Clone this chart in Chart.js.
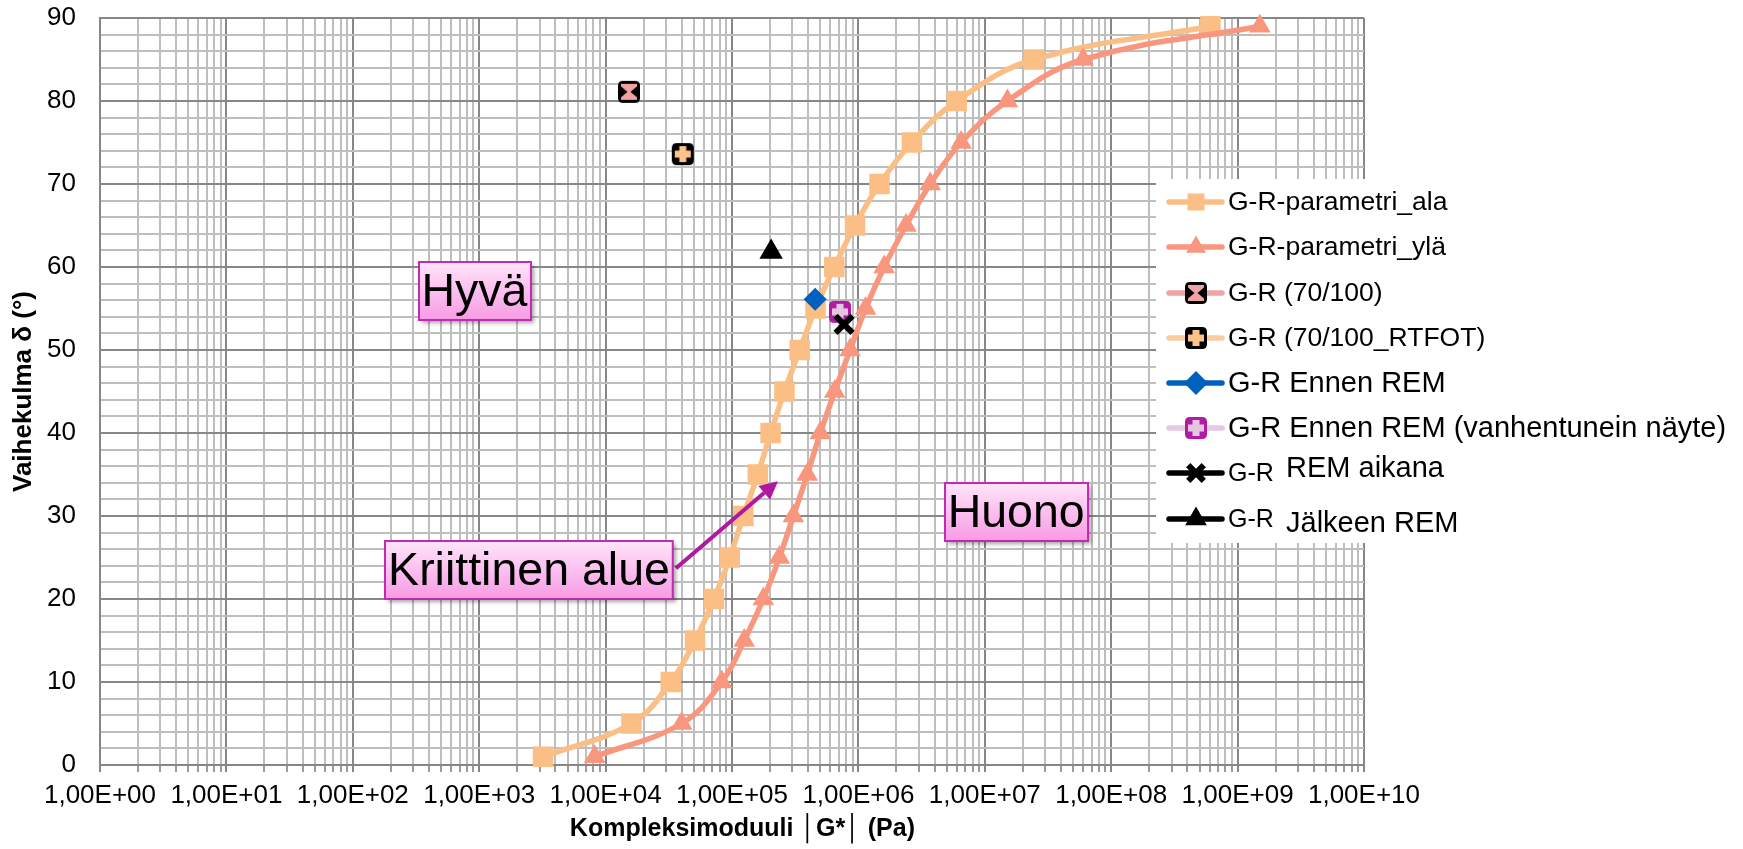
<!DOCTYPE html>
<html>
<head>
<meta charset="utf-8">
<script src="https://cdn.jsdelivr.net/npm/chart.js@4.4.1/dist/chart.umd.min.js"></script>
<style>
html,body{margin:0;padding:0;background:#ffffff;}
#wrap{width:1743px;height:849px;position:relative;}
</style>
</head>
<body>
<div id="wrap"><canvas id="c" width="1743" height="849"></canvas></div>
<script>
// ---------- data ----------
const seriesNames = [
  'G-R-parametri_ala',
  'G-R-parametri_ylä',
  'G-R (70/100)',
  'G-R (70/100_RTFOT)',
  'G-R Ennen REM',
  'G-R Ennen REM (vanhentunein näyte)',
  'G-R REM aikana',
  'G-R Jälkeen REM'
];
const alaG     = [3.2e3, 1.6e4, 3.28e4, 5.1e4, 7.2e4, 9.6e4, 1.23e5, 1.6e5, 2.02e5, 2.6e5, 3.43e5, 4.58e5, 6.45e5, 9.4e5, 1.47e6, 2.65e6, 6.0e6, 2.45e7, 6.1e8];
const alaDelta = [1, 5, 10, 15, 20, 25, 30, 35, 40, 45, 50, 55, 60, 65, 70, 75, 80, 85, 89];
const ylaG     = [8.2e3, 4.0e4, 8.3e4, 1.25e5, 1.77e5, 2.37e5, 3.06e5, 3.94e5, 5.0e5, 6.5e5, 8.6e5, 1.14e6, 1.6e6, 2.38e6, 3.7e6, 6.5e6, 1.51e7, 6.0e7, 1.5e9];
const ylaDelta = [1, 5, 10, 15, 20, 25, 30, 35, 40, 45, 50, 55, 60, 65, 70, 75, 80, 85, 89];
const bitumenG = [1.53e4], bitumenDelta = [81.1];
const rtfotG   = [4.08e4], rtfotDelta   = [73.6];
const ennenG   = [4.55e5], ennenDelta   = [56.1];
const vanhaG   = [7.15e5], vanhaDelta   = [54.6];
const aikanaG  = [7.7e5],  aikanaDelta  = [53.1];
const jalkeenG = [2.04e5], jalkeenDelta = [61.8];

const xTickLabels = ['1,00E+00','1,00E+01','1,00E+02','1,00E+03','1,00E+04','1,00E+05','1,00E+06','1,00E+07','1,00E+08','1,00E+09','1,00E+10'];
const yTickLabels = ['0','10','20','30','40','50','60','70','80','90'];
const xTitle = '\u00a0\u00a0\u00a0Kompleksimoduuli \u2502G*\u2502 (Pa)';
const yTitle = 'Vaihekulma \u03b4 (\u00b0)';

// annotation texts with anchor points in data coordinates
const notes = [
  {text: 'Hyvä', g: 918, d: 57.1},
  {text: 'Kriittinen alue', g: 2477, d: 23.5},
  {text: 'Huono', g: 1.77e7, d: 30.5}
];
const arrowFrom = {g: 3.6e4, d: 23.7};
const arrowTo   = {g: 2.31e5, d: 34.2};

// ---------- helpers ----------
const pts = (xs, ys) => xs.map((x, i) => ({x: x, y: ys[i]}));
const FONT = '"Liberation Sans", Arial, Helvetica, sans-serif';

function rr(g, x, y, w, h, r) {
  g.beginPath();
  g.moveTo(x + r, y); g.lineTo(x + w - r, y); g.quadraticCurveTo(x + w, y, x + w, y + r);
  g.lineTo(x + w, y + h - r); g.quadraticCurveTo(x + w, y + h, x + w - r, y + h);
  g.lineTo(x + r, y + h); g.quadraticCurveTo(x, y + h, x, y + h - r);
  g.lineTo(x, y + r); g.quadraticCurveTo(x, y, x + r, y); g.closePath();
}
function makeMarker(draw) {
  const c = document.createElement('canvas'); c.width = 24; c.height = 24;
  draw(c.getContext('2d')); return c;
}
const mark70 = makeMarker(g => {
  g.fillStyle = '#000'; rr(g, 1, 1, 22, 22, 5); g.fill();
  g.fillStyle = '#F2A2A2'; g.fillRect(4, 4, 16, 16);
  g.fillStyle = '#000';
  g.beginPath(); g.moveTo(4, 6.5); g.lineTo(10.5, 12); g.lineTo(4, 17.5); g.fill();
  g.beginPath(); g.moveTo(20, 6.5); g.lineTo(13.5, 12); g.lineTo(20, 17.5); g.fill();
});
const markRT = makeMarker(g => {
  g.fillStyle = '#000'; rr(g, 1, 1, 22, 22, 5); g.fill();
  g.fillStyle = '#FBC28C'; g.fillRect(8.5, 4, 7, 16); g.fillRect(4, 8.5, 16, 7);
});
const markVanha = makeMarker(g => {
  g.fillStyle = '#B21AA4'; rr(g, 1, 1, 22, 22, 5); g.fill();
  g.fillStyle = '#E4C6E0'; g.fillRect(8.5, 4, 7, 16); g.fillRect(4, 8.5, 16, 7);
});

const ORANGE = '#FBBE84', SALMON = '#F8977E';

const datasets = [
  {label: seriesNames[0], data: pts(alaG, alaDelta), showLine: true, tension: 0.4,
   borderColor: ORANGE, borderWidth: 5.5, pointStyle: 'rect', pointRadius: 14.5,
   pointBackgroundColor: ORANGE, pointBorderColor: ORANGE, pointBorderWidth: 0, legendLine: ORANGE, legendRadius: 12},
  {label: seriesNames[1], data: pts(ylaG, ylaDelta), showLine: true, tension: 0.4,
   borderColor: SALMON, borderWidth: 5.5, pointStyle: 'triangle', pointRadius: 12.5,
   pointBackgroundColor: SALMON, pointBorderColor: SALMON, pointBorderWidth: 0, legendLine: SALMON, legendRadius: 11.5},
  {label: seriesNames[2], data: pts(bitumenG, bitumenDelta), showLine: false,
   pointStyle: mark70, pointRadius: 12, pointBackgroundColor: '#F2A2A2', pointBorderColor: '#000', pointBorderWidth: 0, legendLine: '#F0A3A6', legendRadius: 12},
  {label: seriesNames[3], data: pts(rtfotG, rtfotDelta), showLine: false,
   pointStyle: markRT, pointRadius: 12, pointBackgroundColor: '#FBC28C', pointBorderColor: '#000', pointBorderWidth: 0, legendLine: '#FCCBA2', legendRadius: 12},
  {label: seriesNames[4], data: pts(ennenG, ennenDelta), showLine: false,
   pointStyle: 'rectRot', pointRadius: 11.5, pointBackgroundColor: '#0060BE', pointBorderColor: '#0060BE', pointBorderWidth: 0, legendLine: '#0060BE', legendRadius: 12},
  {label: seriesNames[5], data: pts(vanhaG, vanhaDelta), showLine: false,
   pointStyle: markVanha, pointRadius: 12, pointBackgroundColor: '#E4C6E0', pointBorderColor: '#B21AA4', pointBorderWidth: 0, legendLine: '#E6C8E2', legendRadius: 12},
  {label: seriesNames[6], data: pts(aikanaG, aikanaDelta), showLine: false,
   pointStyle: 'crossRot', pointRadius: 12, pointBackgroundColor: '#000', pointBorderColor: '#000', pointBorderWidth: 6, legendLine: '#000', legendRadius: 11},
  {label: seriesNames[7], data: pts(jalkeenG, jalkeenDelta), showLine: false,
   pointStyle: 'triangle', pointRadius: 13.5, pointBackgroundColor: '#000', pointBorderColor: '#000', pointBorderWidth: 0, legendLine: '#000', legendRadius: 12.5}
];
datasets.forEach((d, i) => { d.order = 20 - i; d.clip = false; d.pointHoverRadius = d.pointRadius; });

// axis ticks (log decades with 2..9 sub-ticks; every 2 degrees)
const xTickValues = [];
xTickLabels.forEach((lab, e) => {
  for (let m = 1; m <= 9; m++) {
    if (e === xTickLabels.length - 1 && m > 1) break;
    xTickValues.push(m * Math.pow(10, e));
  }
});
const yGridValues = [];
for (let v = 0; v <= 90; v += 2) yGridValues.push(v);

const isDecade = v => { const l = Math.log10(v); return Math.abs(l - Math.round(l)) < 1e-9; };
const MAJOR = '#878787', MINOR = '#BEBEBE';

// ---------- plugins ----------
function labelBox(ctx, cx, cy, text) {
  ctx.font = '46.5px ' + FONT;
  const w = ctx.measureText(text).width + 6;
  const h = 58;
  const x = Math.round(cx - w / 2), y = Math.round(cy - h / 2);
  ctx.save();
  ctx.shadowColor = 'rgba(0,0,0,0.35)'; ctx.shadowBlur = 4; ctx.shadowOffsetX = 3; ctx.shadowOffsetY = 3;
  const grad = ctx.createLinearGradient(0, y, 0, y + h);
  grad.addColorStop(0, '#FFE4FA'); grad.addColorStop(1, '#F79BE4');
  ctx.fillStyle = grad; ctx.fillRect(x, y, w, h);
  ctx.restore();
  ctx.strokeStyle = '#C22AB2'; ctx.lineWidth = 2; ctx.strokeRect(x, y, w, h);
  ctx.fillStyle = '#000'; ctx.textAlign = 'center'; ctx.textBaseline = 'middle';
  ctx.fillText(text, cx, cy + 2);
}

const notesPlugin = {
  id: 'notes',
  afterDatasetsDraw(chart) {
    const ctx = chart.ctx, xs = chart.scales.x, ys = chart.scales.y;
    ctx.save();
    const x1 = xs.getPixelForValue(arrowFrom.g), y1 = ys.getPixelForValue(arrowFrom.d);
    const x2 = xs.getPixelForValue(arrowTo.g), y2 = ys.getPixelForValue(arrowTo.d);
    const ang = Math.atan2(y2 - y1, x2 - x1);
    const head = 18, hw = 9;
    const bx = x2 - head * Math.cos(ang), by = y2 - head * Math.sin(ang);
    ctx.strokeStyle = '#B0189E'; ctx.fillStyle = '#B0189E'; ctx.lineWidth = 4;
    ctx.beginPath(); ctx.moveTo(x1, y1); ctx.lineTo(bx, by); ctx.stroke();
    ctx.beginPath();
    ctx.moveTo(x2, y2);
    ctx.lineTo(bx + hw * Math.sin(ang), by - hw * Math.cos(ang));
    ctx.lineTo(bx - hw * Math.sin(ang), by + hw * Math.cos(ang));
    ctx.closePath(); ctx.fill();
    notes.forEach(n => labelBox(ctx, xs.getPixelForValue(n.g), ys.getPixelForValue(n.d), n.text));
    ctx.restore();
  }
};

// legend layout: row centres, font sizes, split-text rows
const legendRowY = [202, 247, 293, 338, 383, 428, 473, 519];
const legendSize = [26.5, 26.5, 26.5, 26.5, 29, 29, 29, 29];
const legendSplit = [null, null, null, null, null, null, {dy: -5}, {dy: 4}];

const legendPlugin = {
  id: 'boxLegend',
  afterDraw(chart) {
    const ctx = chart.ctx;
    ctx.save();
    ctx.fillStyle = '#ffffff';
    ctx.fillRect(1156, 179, 587, 364);
    ctx.textBaseline = 'middle'; ctx.textAlign = 'left';
    chart.data.datasets.forEach((ds, i) => {
      const y = legendRowY[i];
      ctx.strokeStyle = ds.legendLine; ctx.lineWidth = 5.5; ctx.lineCap = 'round';
      ctx.beginPath(); ctx.moveTo(1169, y); ctx.lineTo(1222, y); ctx.stroke();
      ctx.lineCap = 'butt';
      ctx.fillStyle = ds.pointBackgroundColor; ctx.strokeStyle = ds.pointBorderColor; ctx.lineWidth = ds.pointBorderWidth;
      Chart.helpers.drawPoint(ctx, {pointStyle: ds.pointStyle, rotation: 0, radius: ds.legendRadius, borderWidth: ds.pointBorderWidth}, 1196, y);
      ctx.fillStyle = '#000';
      const sp = legendSplit[i];
      if (sp) {
        const cut = ds.label.indexOf(' ');
        ctx.font = '25px ' + FONT;
        ctx.fillText(ds.label.slice(0, cut), 1228, y + 1);
        ctx.font = legendSize[i] + 'px ' + FONT;
        ctx.fillText(ds.label.slice(cut + 1), 1286, y + 1 + sp.dy);
      } else {
        ctx.font = legendSize[i] + 'px ' + FONT;
        ctx.fillText(ds.label, 1228, y + 1);
      }
    });
    ctx.restore();
  }
};

// ---------- chart ----------
new Chart(document.getElementById('c'), {
  type: 'scatter',
  data: {datasets: datasets},
  plugins: [notesPlugin, legendPlugin],
  options: {
    responsive: false,
    animation: false,
    devicePixelRatio: 1,
    layout: {padding: {left: 0, right: 379, top: 18, bottom: 0}},
    plugins: {legend: {display: false}, tooltip: {enabled: false}},
    scales: {
      x: {
        type: 'logarithmic', min: 1, max: 1e10, position: 'bottom',
        afterBuildTicks: s => { s.ticks = xTickValues.map(v => ({value: v, major: isDecade(v)})); },
        afterFit: s => { s.height = 84; s.paddingLeft = 0; s.paddingRight = 0; },
        ticks: {
          autoSkip: false, maxRotation: 0, minRotation: 0, padding: 8, color: '#000',
          font: {family: FONT, size: 26},
          callback: v => isDecade(v) ? xTickLabels[Math.round(Math.log10(v))] : ''
        },
        grid: {
          color: c => (c.tick && isDecade(c.tick.value)) ? MAJOR : MINOR,
          lineWidth: 2, drawTicks: true, tickLength: 7,
          tickColor: c => (c.tick && isDecade(c.tick.value)) ? MAJOR : '#9a9a9a', tickWidth: 2
        },
        border: {display: true, color: MAJOR, width: 2},
        title: {display: true, text: xTitle, color: '#000', font: {family: FONT, size: 25, weight: 'bold'}, padding: {top: 0, bottom: 5}}
      },
      y: {
        type: 'linear', min: 0, max: 90, position: 'left',
        afterBuildTicks: s => { s.ticks = yGridValues.map(v => ({value: v})); },
        afterFit: s => { s.width = 100; s.paddingTop = 0; s.paddingBottom = 0; },
        ticks: {
          autoSkip: false, padding: 24, color: '#000',
          font: {family: FONT, size: 26},
          callback: v => (v % 10 === 0) ? yTickLabels[v / 10] : ''
        },
        grid: {
          color: c => (c.tick && c.tick.value % 10 === 0) ? MAJOR : MINOR,
          lineWidth: 2, drawTicks: false
        },
        border: {display: true, color: MAJOR, width: 2},
        title: {display: true, text: yTitle, color: '#000', font: {family: FONT, size: 26, weight: 'bold'}, padding: {top: 8, bottom: 0}}
      }
    }
  }
});
</script>
</body>
</html>
